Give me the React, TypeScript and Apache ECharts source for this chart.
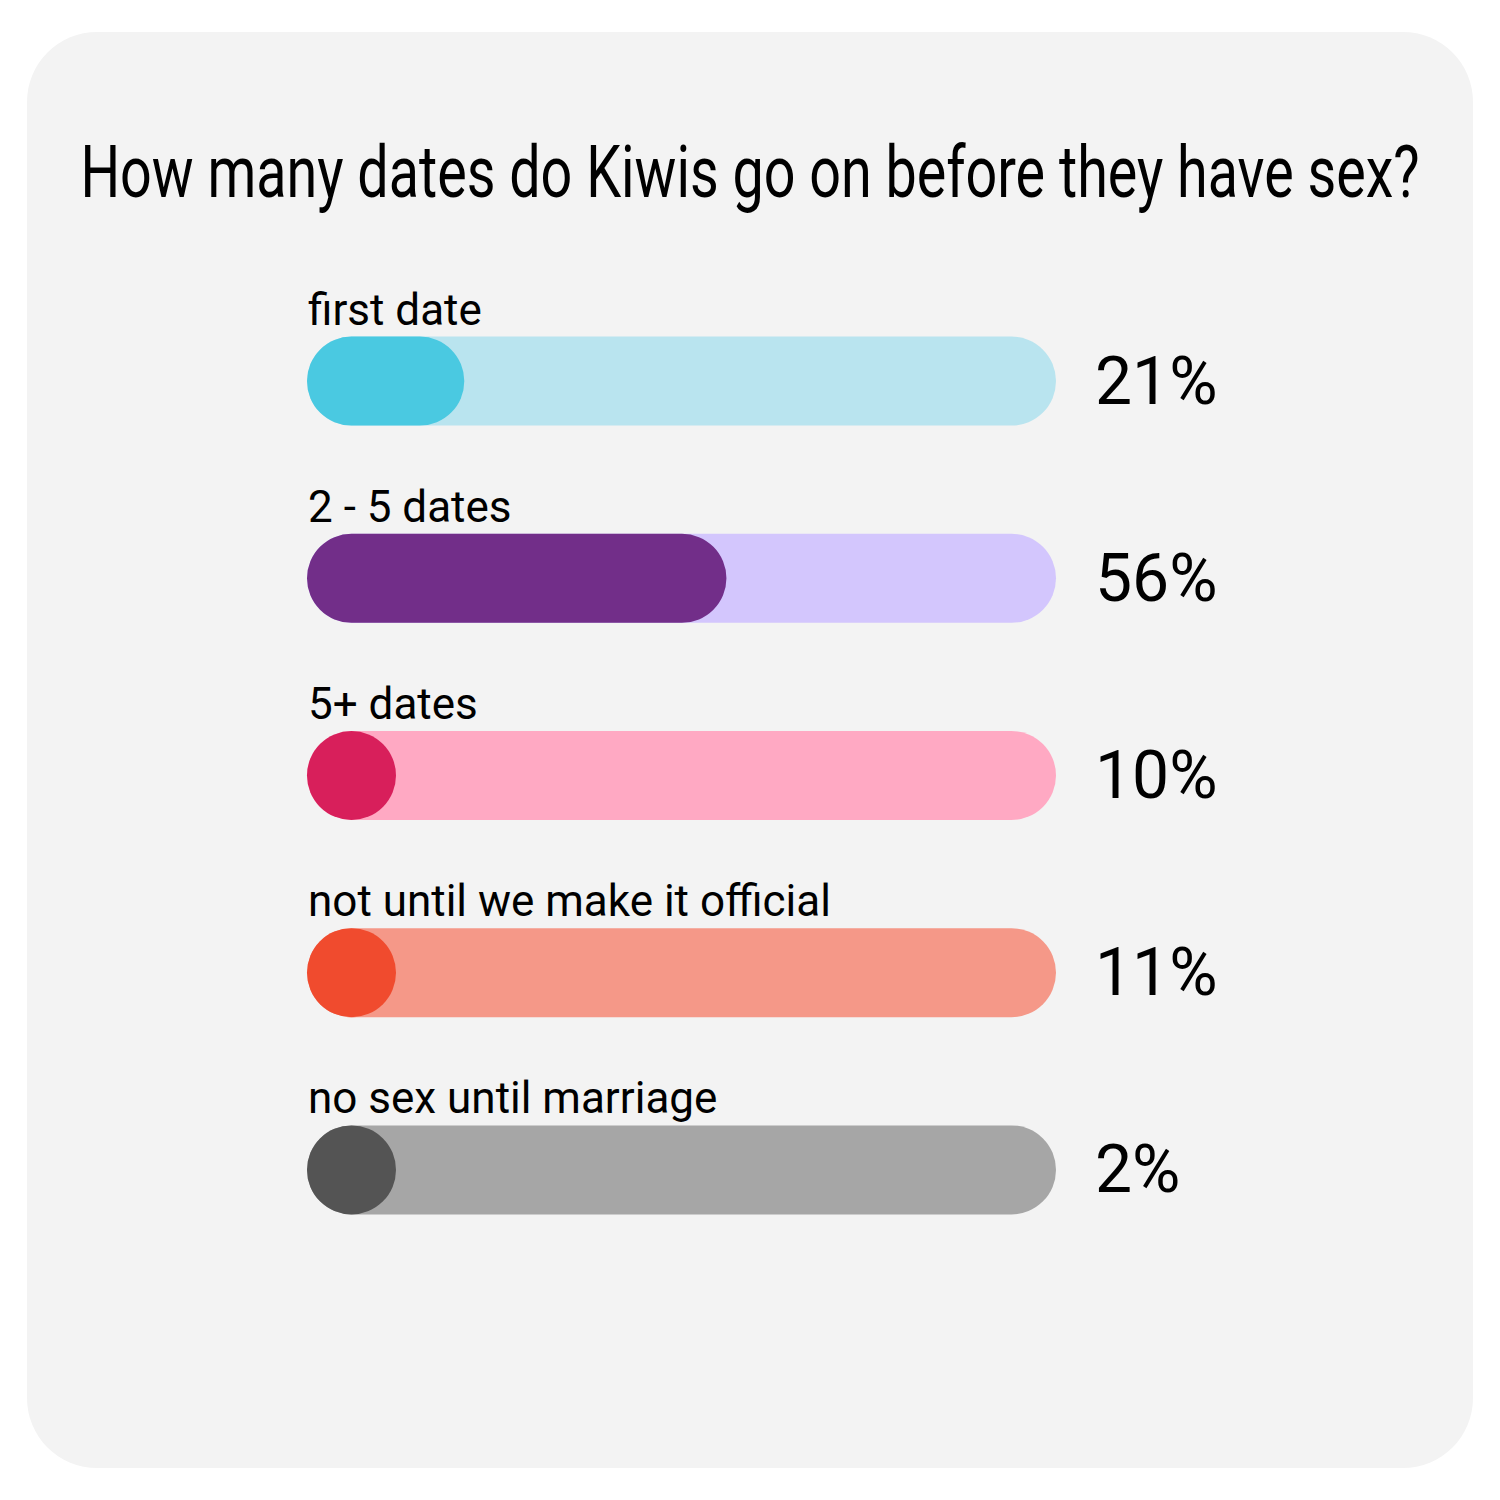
import { useEffect, useRef } from 'react';
import * as echarts from 'echarts';

const TITLE = 'How many dates do Kiwis go on before they have sex?';
const CATEGORIES = ['first date', '2 - 5 dates', '5+ dates', 'not until we make it official', 'no sex until marriage'];
const VALUES = [21, 56, 10, 11, 2];
const FILL_COLORS = ['#4ac9e1', '#722e89', '#d81f5b', '#f04b2e', '#545454'];
const TRACK_COLORS = ['#b9e4ef', '#d3c6fd', '#ffa9c3', '#f59888', '#a6a6a6'];

const BAR_H = 89;

export default function App() {
  const ref = useRef<HTMLDivElement>(null);

  useEffect(() => {
    if (!ref.current) return;
    const chart = echarts.init(ref.current, undefined, { renderer: 'svg' });

    // squeeze Roboto to look like the condensed title face
    const probe = new echarts.graphic.Text({ style: { text: TITLE, font: '72px Roboto' } });
    const titleW = probe.getBoundingRect().width || 1340;
    const titleScale = 1340 / titleW;

    chart.setOption({
      animation: false,
      backgroundColor: '#ffffff',
      graphic: [
        {
          type: 'rect',
          z: -10,
          silent: true,
          shape: { x: 27, y: 32, width: 1446, height: 1436, r: 70 },
          style: { fill: '#f3f3f3' },
        },
        {
          type: 'text',
          x: 750,
          y: 172,
          scaleX: titleScale,
          style: {
            text: TITLE,
            font: '72px Roboto',
            fill: '#000000',
            align: 'center',
            verticalAlign: 'middle',
          },
        },
      ],
      grid: { left: 307, width: 749, top: 282.5, height: 986 },
      xAxis: { type: 'value', min: 0, max: 100, show: false },
      yAxis: [
        { type: 'category', inverse: true, data: CATEGORIES, show: false },
        {
          type: 'category',
          inverse: true,
          position: 'right',
          data: CATEGORIES,
          axisLine: { show: false },
          axisTick: { show: false },
          axisLabel: {
            margin: 39,
            align: 'left',
            fontFamily: 'Roboto',
            fontSize: 66,
            color: '#000000',
            formatter: (_v: string, i: number) => `${VALUES[i]}%`,
          },
        },
      ],
      series: [
        {
          type: 'bar',
          barWidth: BAR_H,
          silent: true,
          data: CATEGORIES.map((c, i) => ({
            value: 100,
            name: c,
            itemStyle: { color: TRACK_COLORS[i] },
          })),
          itemStyle: { borderRadius: BAR_H / 2 },
          label: {
            show: true,
            position: [1, -5],
            align: 'left',
            verticalAlign: 'bottom',
            fontFamily: 'Roboto',
            fontSize: 44,
            color: '#000000',
            formatter: (p: any) => p.name,
          },
        },
        {
          type: 'bar',
          barWidth: BAR_H,
          barGap: '-100%',
          barMinHeight: BAR_H,
          silent: true,
          z: 3,
          data: VALUES.map((v, i) => ({ value: v, itemStyle: { color: FILL_COLORS[i] } })),
          itemStyle: { borderRadius: BAR_H / 2 },
        },
      ],
    });

    return () => chart.dispose();
  }, []);

  return <div ref={ref} style={{ position: 'fixed', left: 0, top: 0, width: 1500, height: 1500 }} />;
}
